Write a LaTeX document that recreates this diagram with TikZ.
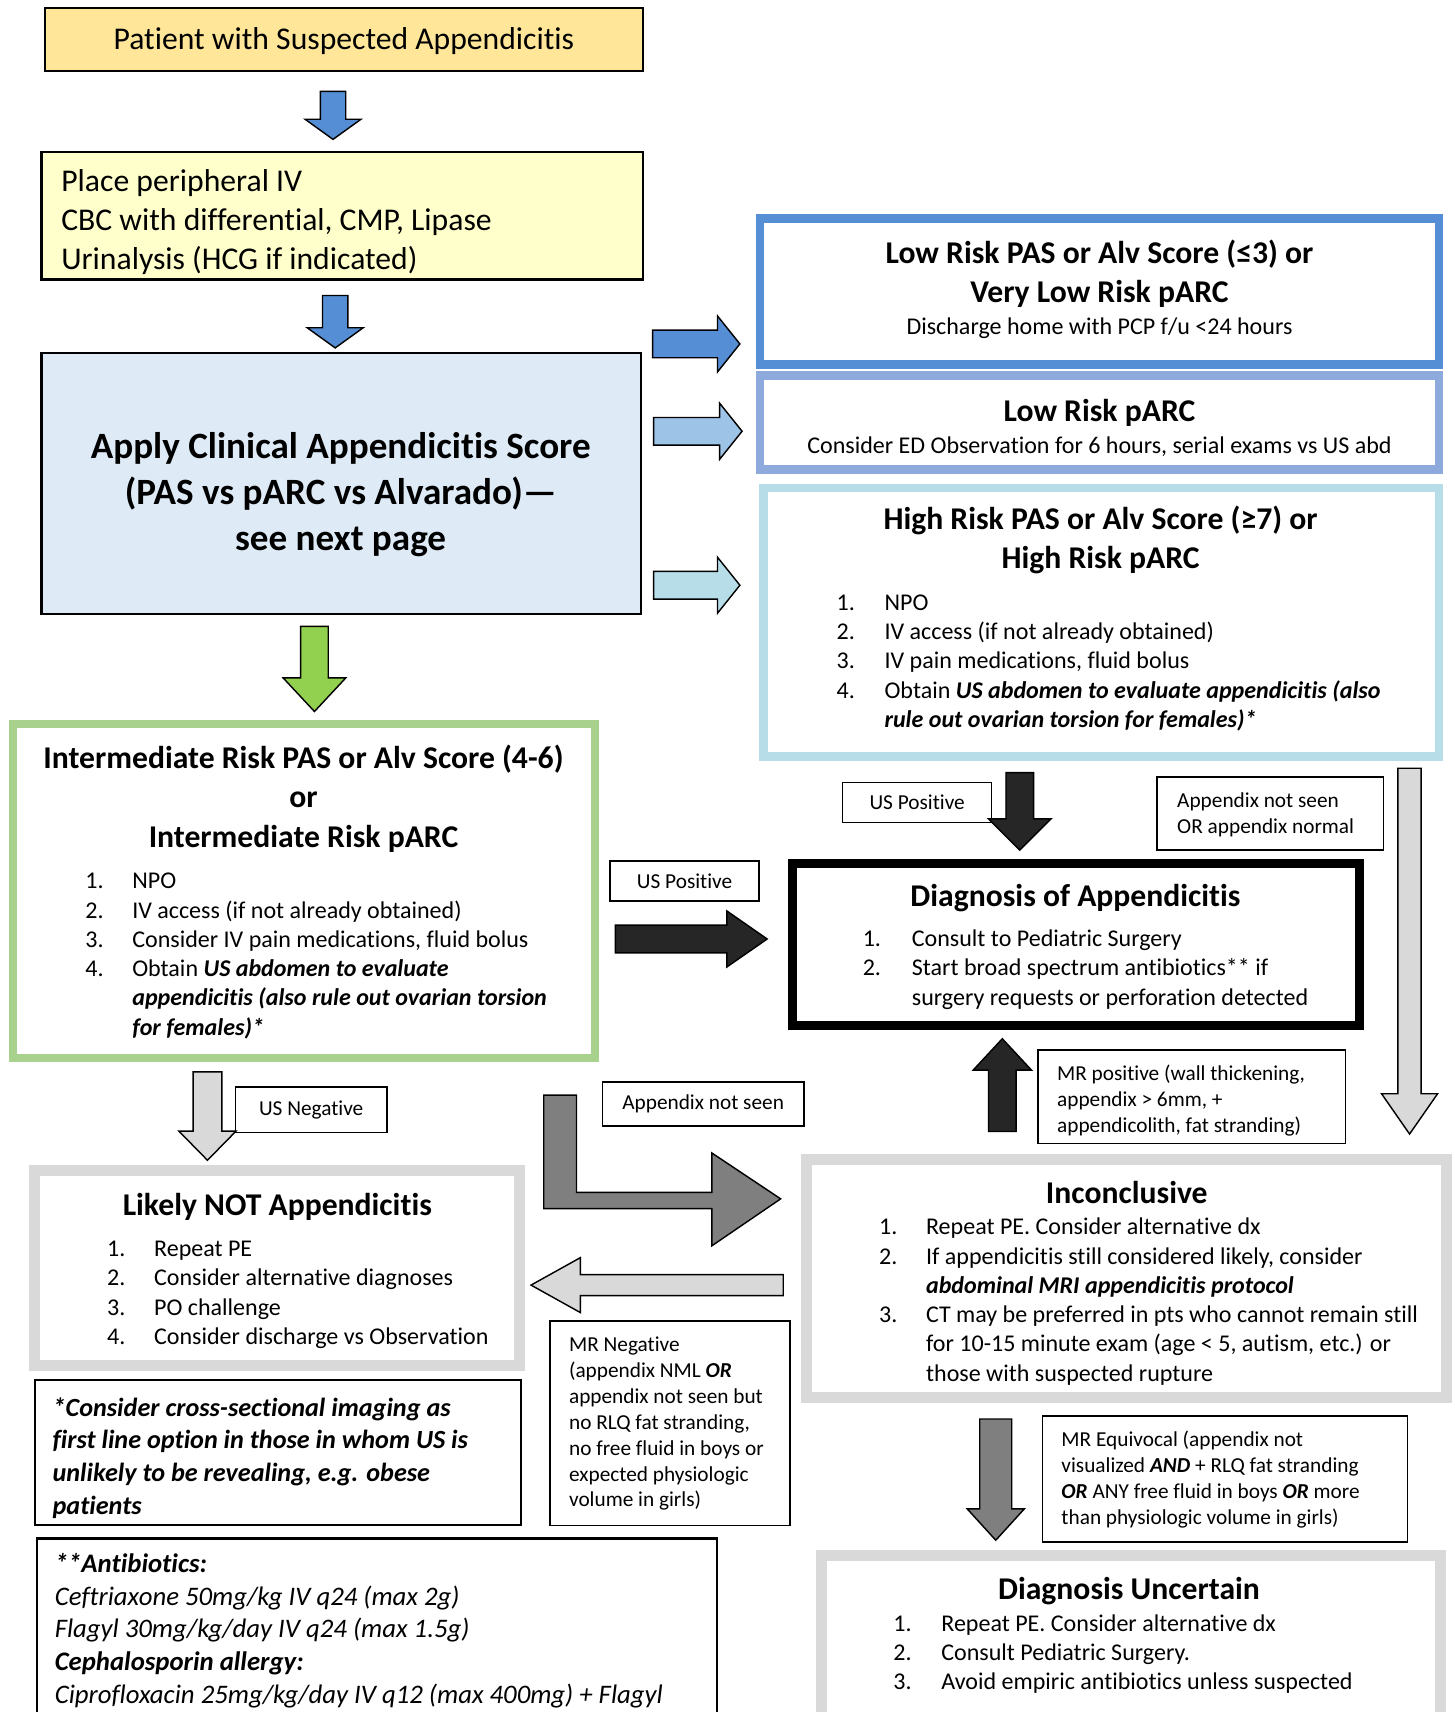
\documentclass[tikz,border=0pt]{standalone}
\usepackage{fontspec}
\setmainfont{Carlito}[Ligatures={NoCommon}]
\usetikzlibrary{shapes.arrows}

\definecolor{patientfill}{HTML}{FFE699}
\definecolor{labsfill}{HTML}{FFFFCC}
\definecolor{scorefill}{HTML}{DEEBF7}
\definecolor{lowblue}{HTML}{558ED5}
\definecolor{lowparc}{HTML}{8EA9DB}
\definecolor{highcyan}{HTML}{B7DEE8}
\definecolor{arrowblue}{HTML}{9DC3E6}
\definecolor{interborder}{HTML}{A9D18E}
\definecolor{arrowgreen}{HTML}{92D050}
\definecolor{darkarrow}{HTML}{262626}
\definecolor{greyline}{HTML}{D9D9D9}
\definecolor{midgrey}{HTML}{7F7F7F}

\tikzset{
  box/.style={draw, rectangle, inner sep=0pt, anchor=north west},
  lbl/.style={box, line width=1.5pt, fill=white, font=\fontsize{19.5}{23.7}\selectfont},
  fat/.style={single arrow, draw=black, line width=1.3pt, inner xsep=0pt,
    single arrow head indent=0pt, anchor=tail},
  ttl/.style={inner sep=0pt, anchor=base, font=\fontsize{29}{36}\selectfont\bfseries},
  sub/.style={inner sep=0pt, anchor=base, font=\fontsize{22}{26.8}\selectfont},
  lst/.style={inner sep=0pt, anchor=base west, font=\fontsize{22}{26.8}\selectfont},
  note/.style={inner sep=0pt, anchor=base west, font=\fontsize{19.5}{23.7}\selectfont},
}

\begin{document}
\begin{tikzpicture}[x=1pt,y=-1pt]
\useasboundingbox (0,0) rectangle (1332,1568);
\clip (0,0) rectangle (1332,1568);

% boxes
\node[box, line width=2pt, fill=patientfill, minimum width=548, minimum height=58] (patient) at (40,6) {};
\node[box, line width=2pt, fill=labsfill, minimum width=551, minimum height=117] (labs) at (37,138) {};
\node[box, line width=2pt, fill=scorefill, minimum width=549, minimum height=239] (score) at (37,322) {};
\node[box, line width=8pt, draw=lowblue, minimum width=622, minimum height=134] (low) at (692,196) {};
\node[box, line width=8pt, draw=lowparc, minimum width=622, minimum height=86] (lowp) at (692,340) {};
\node[box, line width=8pt, draw=highcyan, minimum width=619, minimum height=246] (high) at (695,443) {};
\node[box, line width=8pt, draw=interborder, minimum width=533, minimum height=306] (inter) at (8,659) {};
\node[box, line width=8pt, minimum width=519, minimum height=148] (diag) at (722,787) {};
\node[box, line width=10pt, draw=greyline, minimum width=586, minimum height=218] (incon) at (734,1057) {};
\node[box, line width=10pt, draw=greyline, minimum width=444, minimum height=179] (likely) at (27,1067) {};
\node[box, line width=2pt, minimum width=445, minimum height=133] (cross) at (31,1263) {};
\node[box, line width=2pt, minimum width=623, minimum height=210] (abx) at (33,1408) {};
\node[box, line width=10pt, draw=greyline, minimum width=567, minimum height=190] (uncert) at (747,1420) {};

% labels
\node[lbl, minimum width=136.5, minimum height=36.5] (usposL) at (558,788) {US Positive};
\node[lbl, minimum width=136.5, minimum height=36.5] (usposT) at (771,716) {US Positive};
\node[lbl, minimum width=207.5, minimum height=66.5] (notseenR) at (1059,711) {};
\node[lbl, minimum width=281.5, minimum height=85.5] (mrpos) at (950,961) {};
\node[lbl, minimum width=138.5, minimum height=41.5] (usneg) at (215,995) {US Negative};
\node[lbl, minimum width=184.5, minimum height=40.5] (notseenL) at (551,990) {Appendix not seen};
\node[lbl, minimum width=219.5, minimum height=187.5] (mrneg) at (503,1209) {};
\node[lbl, minimum width=334.5, minimum height=115.5] (mreq) at (954,1296) {};

% texts
\node[inner sep=0pt, anchor=base, font=\fontsize{29}{36}\selectfont] (patientT) at (315,45) {Patient with Suspected Appendicitis};
\node[inner sep=0pt, anchor=base west, font=\fontsize{29}{36}\selectfont] (labsT) at (56,175)
  {\begin{tabular}[t]{@{}l@{}}Place peripheral IV\\CBC with differential, CMP, Lipase\\Urinalysis (HCG if indicated)\end{tabular}};
\node[inner sep=0pt, anchor=base, font=\fontsize{34}{42}\selectfont\bfseries] (scoreT) at (312,420)
  {\begin{tabular}[t]{@{}c@{}}Apply Clinical Appendicitis Score\\(PAS vs pARC vs Alvarado)—\\see next page\end{tabular}};

\node[ttl] (lowT) at (1007,241) {\begin{tabular}[t]{@{}c@{}}Low Risk PAS or Alv Score (≤3) or\\Very Low Risk pARC\end{tabular}};
\node[sub] (lowS) at (1007,306) {Discharge home with PCP f/u <24 hours};
\node[ttl] (lowpT) at (1007,386) {Low Risk pARC};
\node[sub] (lowpS) at (1007,415) {Consider ED Observation for 6 hours, serial exams vs US abd};

\node[ttl] (highT) at (1008,485) {\begin{tabular}[t]{@{}c@{}}High Risk PAS or Alv Score (≥7) or\\High Risk pARC\end{tabular}};
\node[lst] (highL) at (766,559) {\begin{tabular}[t]{@{}p{44pt}@{}l@{}}
  1.&NPO\\
  2.&IV access (if not already obtained)\\
  3.&IV pain medications, fluid bolus\\
  4.&Obtain {\bfseries\itshape US abdomen to evaluate appendicitis (also}\\
  &{\bfseries\itshape rule out ovarian torsion for females)*}\end{tabular}};

\node[ttl] (interT) at (278,704) {\begin{tabular}[t]{@{}c@{}}Intermediate Risk PAS or Alv Score (4-6)\\or\\Intermediate Risk pARC\end{tabular}};
\node[lst] (interL) at (78,814) {\begin{tabular}[t]{@{}p{43pt}@{}l@{}}
  1.&NPO\\
  2.&IV access (if not already obtained)\\
  3.&Consider IV pain medications, fluid bolus\\
  4.&Obtain {\bfseries\itshape US abdomen to evaluate}\\
  &{\bfseries\itshape appendicitis (also rule out ovarian torsion}\\
  &{\bfseries\itshape for females)*}\end{tabular}};

\node[ttl] (diagT) at (985,830) {Diagnosis of Appendicitis};
\node[lst] (diagL) at (790,867) {\begin{tabular}[t]{@{}p{45pt}@{}l@{}}
  1.&Consult to Pediatric Surgery\\
  2.&Start broad spectrum antibiotics** if\\
  &surgery requests or perforation detected\end{tabular}};

\node[ttl] (inconT) at (1032,1102) {Inconclusive};
\node[lst] (inconL) at (805,1131) {\begin{tabular}[t]{@{}p{43pt}@{}l@{}}
  1.&Repeat PE. Consider alternative dx\\
  2.&If appendicitis still considered likely, consider\\
  &{\bfseries\itshape abdominal MRI appendicitis protocol}\\
  3.&CT may be preferred in pts who cannot remain still\\
  &for 10-15 minute exam (age < 5, autism, etc.) or\\
  &those with suspected rupture\end{tabular}};

\node[ttl] (likelyT) at (254,1113) {Likely NOT Appendicitis};
\node[lst] (likelyL) at (98,1151) {\begin{tabular}[t]{@{}p{43pt}@{}l@{}}
  1.&Repeat PE\\
  2.&Consider alternative diagnoses\\
  3.&PO challenge\\
  4.&Consider discharge vs Observation\end{tabular}};

\node[ttl] (uncertT) at (1034,1465) {Diagnosis Uncertain};
\node[lst] (uncertL) at (818,1494) {\begin{tabular}[t]{@{}p{44pt}@{}l@{}}
  1.&Repeat PE. Consider alternative dx\\
  2.&Consult Pediatric Surgery.\\
  3.&Avoid empiric antibiotics unless suspected\end{tabular}};

\node[inner sep=0pt, anchor=base west, font=\fontsize{24}{30}\selectfont\bfseries\itshape] (crossT) at (48,1297)
  {\begin{tabular}[t]{@{}l@{}}*Consider cross-sectional imaging as\\first line option in those in whom US is\\unlikely to be revealing, e.g. obese\\patients\end{tabular}};
\node[inner sep=0pt, anchor=base west, font=\fontsize{24.5}{30}\selectfont\itshape] (abxT) at (50,1440)
  {\begin{tabular}[t]{@{}l@{}}\textbf{**Antibiotics:}\\Ceftriaxone 50mg/kg IV q24 (max 2g)\\Flagyl 30mg/kg/day IV q24 (max 1.5g)\\\textbf{Cephalosporin allergy:}\\Ciprofloxacin 25mg/kg/day IV q12 (max 400mg) + Flagyl\end{tabular}};

\node[note] (notseenRT) at (1078,740) {\begin{tabular}[t]{@{}l@{}}Appendix not seen\\OR appendix normal\end{tabular}};
\node[note] (mrposT) at (968,990) {\begin{tabular}[t]{@{}l@{}}MR positive (wall thickening,\\appendix > 6mm, +\\appendicolith, fat stranding)\end{tabular}};
\node[note] (mrnegT) at (521,1238) {\begin{tabular}[t]{@{}l@{}}MR Negative\\(appendix NML {\bfseries\itshape OR}\\appendix not seen but\\no RLQ fat stranding,\\no free fluid in boys or\\expected physiologic\\volume in girls)\end{tabular}};
\node[note] (mreqT) at (972,1325) {\begin{tabular}[t]{@{}l@{}}MR Equivocal (appendix not\\visualized {\bfseries\itshape AND} + RLQ fat stranding\\{\bfseries\itshape OR} ANY free fluid in boys {\bfseries\itshape OR} more\\than physiologic volume in girls)\end{tabular}};

% block arrows
\node[fat, fill=lowblue, rotate=-90, minimum height=44, inner ysep=11, single arrow head extend=14, single arrow tip angle=108.5] (toLabs) at (305,83) {};
\node[fat, fill=lowblue, rotate=-90, minimum height=48, inner ysep=11, single arrow head extend=14, single arrow tip angle=108.5] (toScore) at (307,270) {};
\node[fat, fill=arrowgreen, rotate=-90, minimum height=78, inner ysep=12, single arrow head extend=16, single arrow tip angle=86] (toInter) at (288,573) {};
\node[fat, fill=lowblue, minimum height=80, inner ysep=12, single arrow head extend=13, single arrow tip angle=102.7] (toLow) at (597,315) {};
\node[fat, fill=arrowblue, minimum height=81, inner ysep=12, single arrow head extend=13, single arrow tip angle=102.7] (toLowp) at (598,395) {};
\node[fat, fill=highcyan, minimum height=79, inner ysep=12, single arrow head extend=13, single arrow tip angle=102.7] (toHigh) at (598,536) {};
\node[fat, fill=darkarrow, minimum height=139, inner ysep=12, single arrow head extend=13, single arrow tip angle=69.6] (interDiag) at (563,860) {};
\node[fat, fill=darkarrow, rotate=-90, minimum height=71, inner ysep=12, single arrow head extend=16, single arrow tip angle=90] (highDiag) at (934,707) {};
\node[fat, fill=darkarrow, rotate=90, minimum height=85, inner ysep=12, single arrow head extend=14, single arrow tip angle=85.8] (inconDiag) at (918,1037) {};
\node[fat, fill=greyline, rotate=-90, minimum height=335, inner ysep=10, single arrow head extend=15, single arrow tip angle=69.6] (highIncon) at (1291,703) {};
\node[fat, fill=greyline, rotate=-90, minimum height=81, inner ysep=12.5, single arrow head extend=13, single arrow tip angle=88.9] (interLikely) at (190,981) {};
\node[fat, fill=greyline, rotate=180, minimum height=231, inner ysep=9, single arrow head extend=15.5, single arrow tip angle=58.2] (inconLikely) at (718,1177) {};
\node[fat, fill=midgrey, rotate=-90, minimum height=111, inner ysep=14, single arrow head extend=11.5, single arrow tip angle=84.7] (inconUncert) at (912,1299) {};
\draw[line width=1.3pt, fill=midgrey] (498,1003) -- (528,1003) -- (528,1092) -- (652,1092) -- (652,1056)
  -- (715,1098) -- (652,1141) -- (652,1107) -- (498,1107) -- cycle;
\end{tikzpicture}
\end{document}
